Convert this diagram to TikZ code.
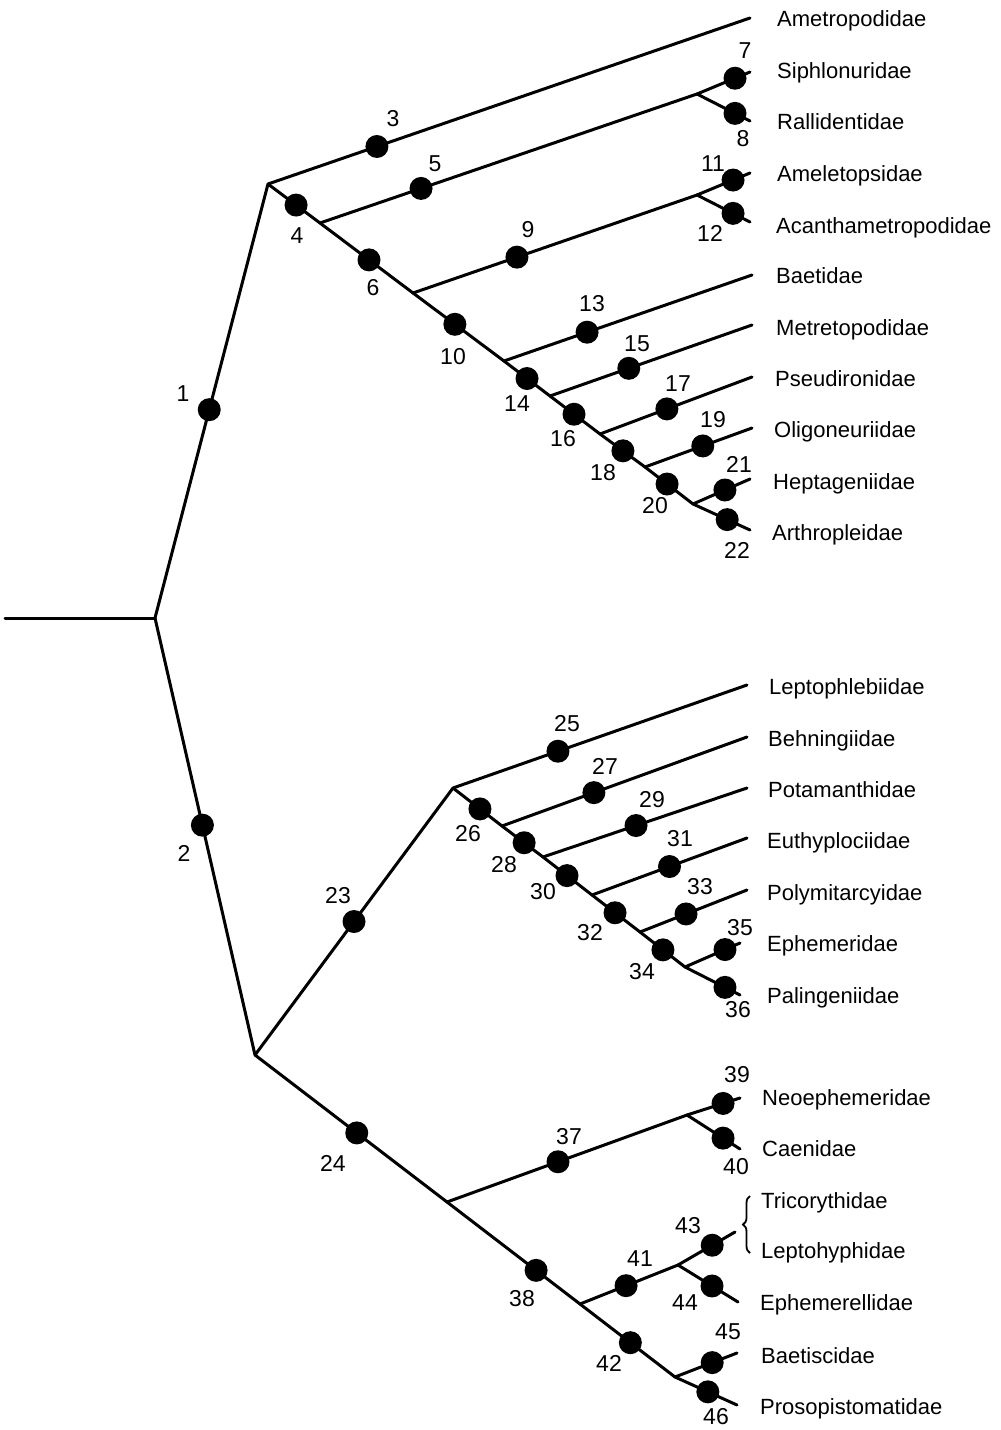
\documentclass[tikz,border=0pt]{standalone}
\usepackage{fontspec}
\setmainfont{Liberation Sans}
\usetikzlibrary{decorations.pathreplacing}
\tikzset{
  br/.style={line width=3pt, line cap=round, line join=round},
  dot/.style={circle, fill=black, inner sep=0pt, minimum size=23pt},
  num/.style={font=\fontsize{23}{26}\selectfont, inner sep=0pt},
  leaf/.style={font=\fontsize{22}{25}\selectfont, anchor=base west, inner sep=0pt},
}
\begin{document}
\begin{tikzpicture}[x=1pt,y=-1pt]
\useasboundingbox (0,0) rectangle (1001,1430);
% ---------- coordinates ----------
\coordinate (L0) at (5,618);
\coordinate (R) at (155,618);
\coordinate (A) at (268,184);
\coordinate (B) at (255,1055);
% upper clade
\coordinate (E3) at (750,18);
\coordinate (S5) at (320,223);
\coordinate (S9) at (413,293);
\coordinate (S13) at (504,361);
\coordinate (S15) at (550,396);
\coordinate (S17) at (600,434);
\coordinate (S19) at (645,467);
\coordinate (S21) at (693,504);
\coordinate (E22) at (750,530);
\coordinate (S7) at (697,94);
\coordinate (E7) at (750,72);
\coordinate (E8) at (750,121);
\coordinate (S11) at (697,195);
\coordinate (E11) at (750,173);
\coordinate (E12) at (750,222);
\coordinate (E13) at (752,275);
\coordinate (E15) at (752,325);
\coordinate (E17) at (752,377);
\coordinate (E19) at (752,428);
\coordinate (E21) at (750,479);
% middle clade
\coordinate (C) at (453,788);
\coordinate (E25) at (747,685);
\coordinate (S27) at (502,826);
\coordinate (S29) at (543,857);
\coordinate (S31) at (592,895);
\coordinate (S33) at (640,932);
\coordinate (S35) at (685,967);
\coordinate (E27) at (747,737);
\coordinate (E29) at (747,788);
\coordinate (E31) at (747,838);
\coordinate (E33) at (747,890);
\coordinate (E35) at (740,943);
\coordinate (E36) at (740,995);
% lower clade
\coordinate (S37) at (447,1202);
\coordinate (S41) at (580,1304);
\coordinate (S45) at (675,1377);
\coordinate (E46) at (737,1405);
\coordinate (E45) at (737,1353);
\coordinate (S39) at (687,1115);
\coordinate (E39) at (740,1098);
\coordinate (E40) at (740,1149);
\coordinate (S43) at (678,1265);
\coordinate (E43) at (735,1232);
\coordinate (E44) at (738,1302);
% ---------- branches ----------
\draw[br] (L0) -- (R);
\draw[br] (R) -- node[dot,pos=0.48] (d1) {} (A);
\draw[br] (R) -- node[dot,pos=0.474] (d2) {} (B);
% upper
\draw[br] (A) -- node[dot,pos=0.226] (d3) {} (E3);
\draw[br] (A) -- node[dot,pos=0.54] (d4) {} (S5);
\draw[br] (S5) -- node[dot,pos=0.527] (d6) {} (S9);
\draw[br] (S9) -- node[dot,pos=0.46] (d10) {} (S13);
\draw[br] (S13) -- node[dot,pos=0.5] (d14) {} (S15);
\draw[br] (S15) -- node[dot,pos=0.48] (d16) {} (S17);
\draw[br] (S17) -- node[dot,pos=0.51] (d18) {} (S19);
\draw[br] (S19) -- node[dot,pos=0.46] (d20) {} (S21);
\draw[br] (S21) -- node[dot,pos=0.6] (d22) {} (E22);
\draw[br] (S5) -- node[dot,pos=0.268] (d5) {} (S7);
\draw[br] (S7) -- node[dot,pos=0.717] (d7) {} (E7);
\draw[br] (S7) -- node[dot,pos=0.717] (d8) {} (E8);
\draw[br] (S9) -- node[dot,pos=0.366] (d9) {} (S11);
\draw[br] (S11) -- node[dot,pos=0.68] (d11) {} (E11);
\draw[br] (S11) -- node[dot,pos=0.68] (d12) {} (E12);
\draw[br] (S13) -- node[dot,pos=0.335] (d13) {} (E13);
\draw[br] (S15) -- node[dot,pos=0.39] (d15) {} (E15);
\draw[br] (S17) -- node[dot,pos=0.44] (d17) {} (E17);
\draw[br] (S19) -- node[dot,pos=0.54] (d19) {} (E19);
\draw[br] (S21) -- node[dot,pos=0.56] (d21) {} (E21);
% middle
\draw[br] (B) -- node[dot,pos=0.5] (d23) {} (C);
\draw[br] (C) -- node[dot,pos=0.357] (d25) {} (E25);
\draw[br] (C) -- node[dot,pos=0.55] (d26) {} (S27);
\draw[br] (S27) -- node[dot,pos=0.54] (d28) {} (S29);
\draw[br] (S29) -- node[dot,pos=0.49] (d30) {} (S31);
\draw[br] (S31) -- node[dot,pos=0.48] (d32) {} (S33);
\draw[br] (S33) -- node[dot,pos=0.51] (d34) {} (S35);
\draw[br] (S27) -- node[dot,pos=0.375] (d27) {} (E27);
\draw[br] (S29) -- node[dot,pos=0.456] (d29) {} (E29);
\draw[br] (S31) -- node[dot,pos=0.5] (d31) {} (E31);
\draw[br] (S33) -- node[dot,pos=0.43] (d33) {} (E33);
\draw[br] (S35) -- node[dot,pos=0.727] (d35) {} (E35);
\draw[br] (S35) -- node[dot,pos=0.727] (d36) {} (E36);
% lower
\draw[br] (B) -- node[dot,pos=0.53] (d24) {} (S37);
\draw[br] (S37) -- node[dot,pos=0.67] (d38) {} (S41);
\draw[br] (S41) -- node[dot,pos=0.53] (d42) {} (S45);
\draw[br] (S45) -- node[dot,pos=0.53] (d46) {} (E46);
\draw[br] (S45) -- node[dot,pos=0.6] (d45) {} (E45);
\draw[br] (S37) -- node[dot,pos=0.4625] (d37) {} (S39);
\draw[br] (S39) -- node[dot,pos=0.68] (d39) {} (E39);
\draw[br] (S39) -- node[dot,pos=0.68] (d40) {} (E40);
\draw[br] (S41) -- node[dot,pos=0.47] (d41) {} (S43);
\draw[br] (S43) -- node[dot,pos=0.6] (d43) {} (E43);
\draw[br] (S43) -- node[dot,pos=0.567] (d44) {} (E44);
% brace
\draw[line width=1.8pt, decorate, decoration={brace, amplitude=7pt}] (750,1253) -- (750,1196);
% ---------- numbers ----------
\node[num] (n1) at (183,394) {1};
\node[num] (n2) at (184,853) {2};
\node[num] (n3) at (393,119) {3};
\node[num] (n4) at (297,236) {4};
\node[num] (n5) at (435,164) {5};
\node[num] (n6) at (373,288) {6};
\node[num] (n7) at (745,51) {7};
\node[num] (n8) at (743,139) {8};
\node[num] (n9) at (528,230) {9};
\node[num] (n10) at (453,357) {10};
\node[num] (n11) at (713,164) {11};
\node[num] (n12) at (710,233) {12};
\node[num] (n13) at (592,304) {13};
\node[num] (n14) at (517,404) {14};
\node[num] (n15) at (637,344) {15};
\node[num] (n16) at (563,439) {16};
\node[num] (n17) at (678,384) {17};
\node[num] (n18) at (603,473) {18};
\node[num] (n19) at (713,420) {19};
\node[num] (n20) at (655,506) {20};
\node[num] (n21) at (739,464) {21};
\node[num] (n22) at (737,550) {22};
\node[num] (n23) at (338,896) {23};
\node[num] (n24) at (333,1163) {24};
\node[num] (n25) at (567,724) {25};
\node[num] (n26) at (468,834) {26};
\node[num] (n27) at (605,766) {27};
\node[num] (n28) at (504,865) {28};
\node[num] (n29) at (652,800) {29};
\node[num] (n30) at (543,892) {30};
\node[num] (n31) at (680,839) {31};
\node[num] (n32) at (590,933) {32};
\node[num] (n33) at (700,887) {33};
\node[num] (n34) at (642,972) {34};
\node[num] (n35) at (740,928) {35};
\node[num] (n36) at (738,1010) {36};
\node[num] (n37) at (569,1137) {37};
\node[num] (n38) at (522,1299) {38};
\node[num] (n39) at (737,1075) {39};
\node[num] (n40) at (736,1167) {40};
\node[num] (n41) at (640,1259) {41};
\node[num] (n42) at (609,1363) {42};
\node[num] (n43) at (688,1226) {43};
\node[num] (n44) at (685,1303) {44};
\node[num] (n45) at (728,1332) {45};
\node[num] (n46) at (716,1417) {46};
% ---------- leaf names ----------
\node[leaf] (t1) at (777,26) {Ametropodidae};
\node[leaf] (t2) at (777,78) {Siphlonuridae};
\node[leaf] (t3) at (777,129) {Rallidentidae};
\node[leaf] (t4) at (777,181) {Ameletopsidae};
\node[leaf] (t5) at (776,233) {Acanthametropodidae};
\node[leaf] (t6) at (776,283) {Baetidae};
\node[leaf] (t7) at (776,335) {Metretopodidae};
\node[leaf] (t8) at (775,386) {Pseudironidae};
\node[leaf] (t9) at (774,437) {Oligoneuriidae};
\node[leaf] (t10) at (773,489) {Heptageniidae};
\node[leaf] (t11) at (772,540) {Arthropleidae};
\node[leaf] (t12) at (769,694) {Leptophlebiidae};
\node[leaf] (t13) at (768,746) {Behningiidae};
\node[leaf] (t14) at (768,797) {Potamanthidae};
\node[leaf] (t15) at (767,848) {Euthyplociidae};
\node[leaf] (t16) at (767,900) {Polymitarcyidae};
\node[leaf] (t17) at (767,951) {Ephemeridae};
\node[leaf] (t18) at (767,1003) {Palingeniidae};
\node[leaf] (t19) at (762,1105) {Neoephemeridae};
\node[leaf] (t20) at (762,1156) {Caenidae};
\node[leaf] (t21) at (761,1208) {Tricorythidae};
\node[leaf] (t22) at (761,1258) {Leptohyphidae};
\node[leaf] (t23) at (760,1310) {Ephemerellidae};
\node[leaf] (t24) at (761,1363) {Baetiscidae};
\node[leaf] (t25) at (760,1414) {Prosopistomatidae};
\end{tikzpicture}
\end{document}
